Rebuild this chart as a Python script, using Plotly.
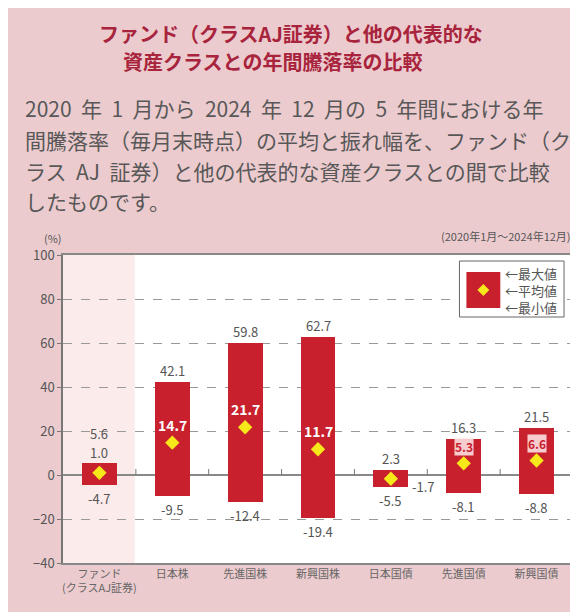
import plotly.graph_objects as go

categories = ["ファンド<br>(クラスAJ証券)", "日本株", "先進国株", "新興国株", "日本国債", "先進国債", "新興国債"]
max_vals = [5.6, 42.1, 59.8, 62.7, 2.3, 16.3, 21.5]
avg_vals = [1.0, 14.7, 21.7, 11.7, -1.7, 5.3, 6.6]
min_vals = [-4.7, -9.5, -12.4, -19.4, -5.5, -8.1, -8.8]
y_ticks = [-40, -20, 0, 20, 40, 60, 80, 100]

FONT = "Noto Sans CJK JP"
RED = "#c9202e"
GRAY = "#555555"
PINK = "#eccbce"

L, R, T, B = 55, 11, 247, 57
W, H = 578, 612
PW, PH = W - L - R, H - T - B


def px_x(px):
    return (px - L) / PW


def px_y(py):
    return (H - B - py) / PH


idx = list(range(len(categories)))
fig = go.Figure()

fig.add_trace(go.Bar(
    x=idx, y=[mx - mn for mx, mn in zip(max_vals, min_vals)], base=min_vals,
    marker=dict(color=RED, line=dict(width=0)), width=0.48, hoverinfo="skip",
))
fig.add_trace(go.Scatter(
    x=idx, y=avg_vals, mode="markers",
    marker=dict(symbol="diamond", size=11, color="#f7e81a", line=dict(width=0)),
    hoverinfo="skip",
))

ann = []
shapes = []
# fund column shading
shapes.append(dict(type="rect", xref="x", yref="paper", x0=-0.5, x1=0.485, y0=0, y1=1,
                   fillcolor="#fcebeb", line=dict(width=0), layer="below"))
# small ticks on zero line between categories
for i in idx[:-1]:
    shapes.append(dict(type="line", xref="x", yref="y", x0=i + 0.5, x1=i + 0.5,
                       ysizemode="pixel", yanchor=0, y0=0, y1=6,
                       line=dict(color="#777", width=1)))

LBL = 13
for i, (mx, av, mn) in enumerate(zip(max_vals, avg_vals, min_vals)):
    inside = (mx - av) > 8
    below_zero_avg = av < 0 and (mx - av) < 8
    # max label
    ann.append(dict(x=i, y=mx, xref="x", yref="y", text=f"{mx:.1f}", showarrow=False,
                    xanchor="center", yanchor="bottom",
                    yshift=(18 if (not inside and not below_zero_avg) else 0),
                    font=dict(family=FONT, size=LBL, color=GRAY)))
    # min label
    ann.append(dict(x=i, y=mn, xref="x", yref="y", text=f"{mn:.1f}", showarrow=False,
                    xanchor="center", yanchor="top", yshift=-2,
                    font=dict(family=FONT, size=LBL, color=GRAY)))
    # avg label
    if inside and mx - av > 15:
        ann.append(dict(x=i, y=av, xref="x", yref="y", text=f"<b>{av:.1f}</b>", showarrow=False,
                        xanchor="center", yanchor="bottom", yshift=6,
                        font=dict(family=FONT, size=14, color="white")))
    elif inside:
        ann.append(dict(x=i, y=av, xref="x", yref="y", text=f"<b>{av:.1f}</b>", showarrow=False,
                        xanchor="center", yanchor="bottom", yshift=7, bgcolor="rgba(255,235,235,0.85)",
                        borderpad=0, font=dict(family=FONT, size=12, color=RED)))
    elif below_zero_avg:
        ann.append(dict(x=i + 0.26, y=av, xref="x", yref="y", text=f"{av:.1f}", showarrow=False,
                        xanchor="left", yanchor="middle", yshift=-8,
                        font=dict(family=FONT, size=LBL, color=GRAY)))
    else:
        ann.append(dict(x=i, y=mx, xref="x", yref="y", text=f"{av:.1f}", showarrow=False,
                        xanchor="center", yanchor="bottom", yshift=-1,
                        font=dict(family=FONT, size=LBL, color=GRAY)))

# Titles
ann.append(dict(xref="paper", yref="paper", x=px_x(284), y=px_y(25), text="<b>ファンド（クラスAJ証券）と他の代表的な</b>",
                showarrow=False, xanchor="center", yanchor="middle",
                font=dict(family=FONT, size=20, color="#a8243d")))
ann.append(dict(xref="paper", yref="paper", x=px_x(265), y=px_y(53), text="<b>資産クラスとの年間騰落率の比較</b>",
                showarrow=False, xanchor="center", yanchor="middle",
                font=dict(family=FONT, size=20, color="#a8243d")))
S = " \u00a0"
para = [
    f"2020{S}年{S}1{S}月から{S}2024{S}年{S}12{S}月の{S}5{S}年間における年",
    "間騰落率（毎月末時点）の平均と振れ幅を、ファンド（ク",
    f"ラス{S}AJ{S}証券）と他の代表的な資産クラスとの間で比較",
    "したものです。",
]
for line, py in zip(para, [100, 132, 163, 193]):
    ann.append(dict(xref="paper", yref="paper", x=px_x(15), y=px_y(py), text=line,
                    showarrow=False, xanchor="left", yanchor="middle",
                    font=dict(family=FONT, size=21, color="#585858")))
ann.append(dict(xref="paper", yref="paper", x=px_x(45), y=px_y(230), text="(%)", showarrow=False,
                xanchor="center", yanchor="middle", font=dict(family=FONT, size=11, color=GRAY)))
ann.append(dict(xref="paper", yref="paper", x=1, y=px_y(228), text="(2020年1月～2024年12月)", showarrow=False,
                xanchor="right", yanchor="middle", font=dict(family=FONT, size=11, color=GRAY)))

# Legend box
shapes.append(dict(type="rect", xref="paper", yref="paper", x0=px_x(453), x1=px_x(558),
                   y0=px_y(309), y1=px_y(253), fillcolor="white", line=dict(color="#666", width=1)))
shapes.append(dict(type="rect", xref="paper", yref="paper", x0=px_x(460), x1=px_x(494),
                   y0=px_y(300), y1=px_y(264), fillcolor=RED, line=dict(width=0)))
shapes.append(dict(type="path", xref="paper", yref="paper",
                   path=(f"M {px_x(477)},{px_y(276)} L {px_x(483)},{px_y(282)} "
                         f"L {px_x(477)},{px_y(288)} L {px_x(471)},{px_y(282)} Z"),
                   fillcolor="#f7e81a", line=dict(width=0)))
ann.append(dict(xref="paper", yref="paper", x=px_x(497), y=px_y(282),
                text="←最大値<br>←平均値<br>←最小値", showarrow=False, align="left",
                xanchor="left", yanchor="middle", font=dict(family=FONT, size=13, color=GRAY)))

fig.update_layout(
    width=W, height=H, margin=dict(l=L, r=R, t=T, b=B),
    paper_bgcolor=PINK, plot_bgcolor="white", showlegend=False,
    annotations=ann, shapes=shapes, bargap=0,
    xaxis=dict(range=[-0.5, len(categories) - 0.5], tickvals=idx, ticktext=categories,
               showgrid=False, zeroline=False, showline=True, linecolor="#888", linewidth=1.5,
               mirror=True, ticks="", tickfont=dict(family=FONT, size=11, color="#666")),
    yaxis=dict(range=[-40, 100], tickvals=y_ticks, showgrid=True, gridcolor="#999",
               griddash="dash", gridwidth=1, zeroline=True, zerolinecolor="#888", zerolinewidth=1.5,
               showline=True, linecolor="#777", linewidth=1.5, mirror=True, ticks="outside",
               ticklen=4, tickcolor="#777",
               tickfont=dict(family=FONT, size=13, color=GRAY)),
)

fig.write_html("out.html")
